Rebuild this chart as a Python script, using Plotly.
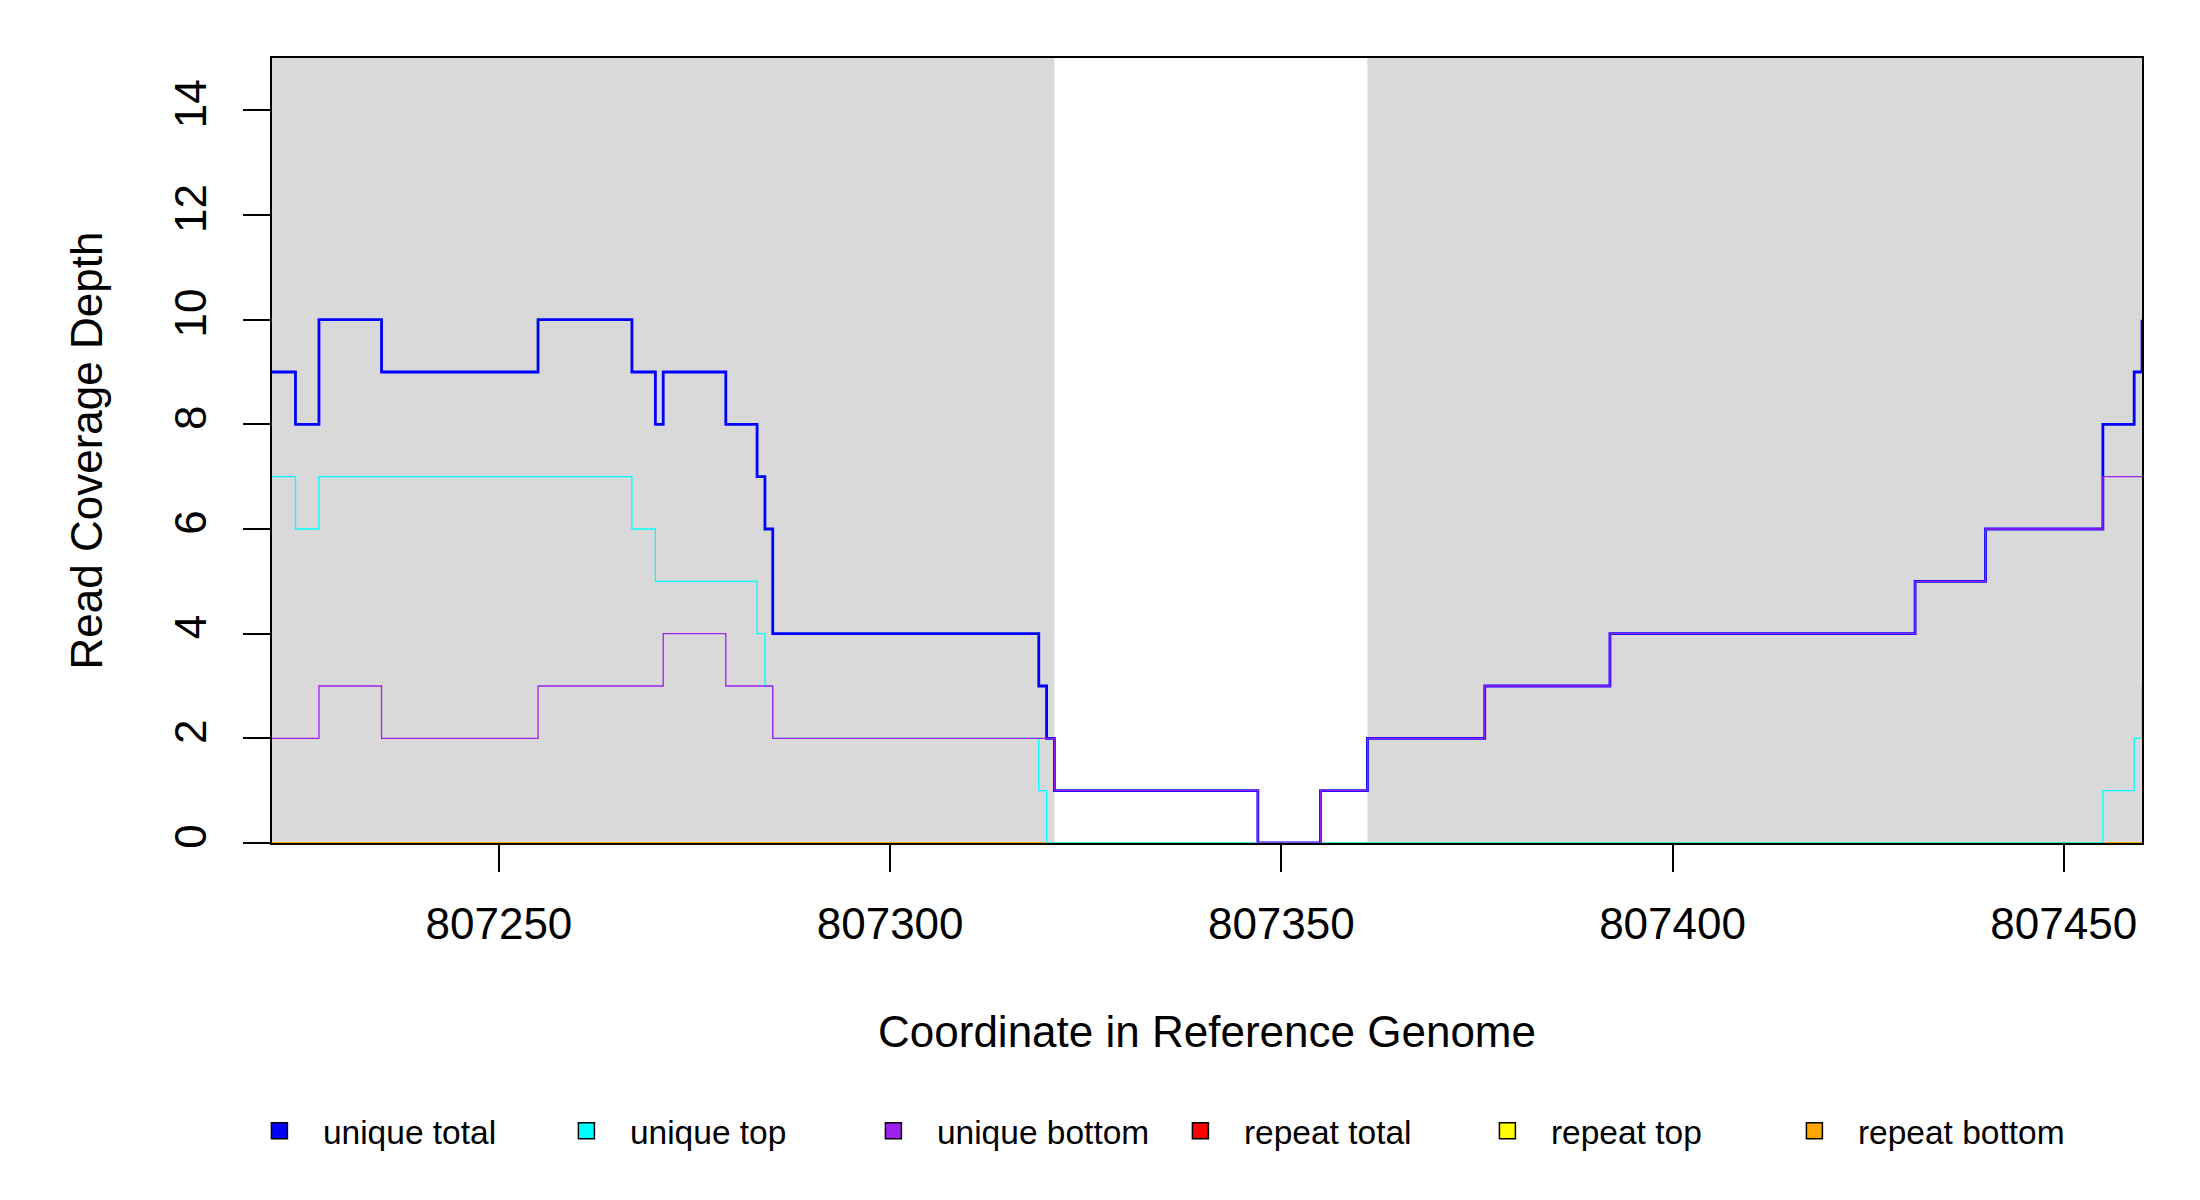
import plotly.graph_objects as go

# genome positions where the coverage changes (step function, value held until next position)
positions = [807221, 807224, 807227, 807235, 807255, 807267, 807270, 807271, 807279,
             807283, 807284, 807285, 807319, 807320, 807321, 807347, 807355, 807361,
             807376, 807392, 807431, 807440, 807455, 807459, 807460]

unique_total = [9, 8, 10, 9, 10, 9, 8, 9, 8, 7, 6, 4, 3, 2, 1, 0, 1, 2, 3, 4, 5, 6, 8, 9, 10]
unique_top = [7, 6, 7, 7, 7, 6, 5, 5, 5, 4, 3, 2, 1, 0, 0, 0, 0, 0, 0, 0, 0, 0, 1, 2, 3]
unique_bottom = [2, 2, 3, 2, 3, 3, 3, 4, 3, 3, 3, 2, 2, 2, 1, 0, 1, 2, 3, 4, 5, 6, 7, 7, 7]
repeat_total = [0, 0, 0, 0, 0, 0, 0, 0, 0, 0, 0, 0, 0, 0, 0, 0, 0, 0, 0, 0, 0, 0, 0, 0, 0]
repeat_top = [0, 0, 0, 0, 0, 0, 0, 0, 0, 0, 0, 0, 0, 0, 0, 0, 0, 0, 0, 0, 0, 0, 0, 0, 0]
repeat_bottom = [0, 0, 0, 0, 0, 0, 0, 0, 0, 0, 0, 0, 0, 0, 0, 0, 0, 0, 0, 0, 0, 0, 0, 0, 0]

# shaded (gray) regions of the reference
shade_starts = [807221, 807361]
shade_ends = [807321, 807460]

x_ticks = [807250, 807300, 807350, 807400, 807450]
x_tick_labels = ["807250", "807300", "807350", "807400", "807450"]
y_ticks = [0, 2, 4, 6, 8, 10, 12, 14]

series = [
    ("unique total", unique_total, "#0000FF", 2.8),
    ("unique top", unique_top, "#00FFFF", 1.3),
    ("unique bottom", unique_bottom, "#A020F0", 1.3),
    ("repeat total", repeat_total, "#FF0000", 1.6),
    ("repeat top", repeat_top, "#FFFF00", 1.6),
    ("repeat bottom", repeat_bottom, "#FFA500", 1.6),
]

FONT = "Liberation Sans, Arial, sans-serif"

fig = go.Figure()

for x0, x1 in zip(shade_starts, shade_ends):
    fig.add_vrect(x0=x0, x1=x1, fillcolor="#D9D9D9", opacity=1, line_width=0, layer="below")

# repeat lines first so the unique ones sit on top
for name, values, color, width in series[3:] + series[:3]:
    fig.add_trace(go.Scatter(
        x=positions, y=values, mode="lines", line_shape="hv",
        line=dict(color=color, width=width), showlegend=False, hoverinfo="skip",
    ))

# legend entries as filled squares
for name, values, color, width in series:
    fig.add_trace(go.Scatter(
        x=[None], y=[None], mode="markers", name=name,
        marker=dict(symbol="square", size=16, color=color, line=dict(color="black", width=1.5)),
    ))

# margins are shifted by the 8px body margin of the html page
fig.update_layout(
    width=2200, height=1200,
    margin=dict(l=264, r=66, t=50, b=365),
    plot_bgcolor="white", paper_bgcolor="white",
    font=dict(family=FONT, size=44, color="black"),
    legend=dict(
        orientation="h", x=-0.0193, xanchor="left", y=-0.3667, yanchor="middle",
        font=dict(size=33.5), itemwidth=77, entrywidth=215, entrywidthmode="pixels",
        bgcolor="rgba(0,0,0,0)",
    ),
)
fig.update_xaxes(
    range=[807221, 807460], tickvals=x_ticks, ticktext=x_tick_labels,
    ticks="outside", ticklen=27, tickwidth=2, tickcolor="black",
    showline=True, linecolor="black", linewidth=1.5, mirror=True,
    showgrid=False, zeroline=False, ticklabelstandoff=14,
    title=dict(text="Coordinate in Reference Genome", standoff=70, font=dict(size=44)),
)
fig.update_yaxes(
    range=[0, 15], tickvals=y_ticks, tickangle=-90,
    ticks="outside", ticklen=27, tickwidth=2, tickcolor="black",
    showline=True, linecolor="black", linewidth=1.5, mirror=True,
    showgrid=False, zeroline=False, ticklabelstandoff=20,
    title=dict(text="Read Coverage Depth", standoff=49, font=dict(size=44)),
)

fig.write_html("out.html")
